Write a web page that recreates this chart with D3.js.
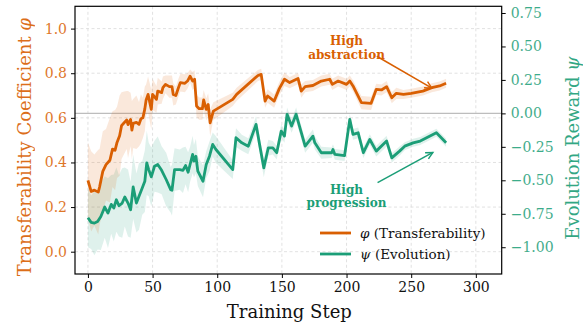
<!DOCTYPE html>
<html>
<head>
<meta charset="utf-8">
<script src="https://cdn.jsdelivr.net/npm/d3@7"></script>
<style>
  body { margin: 0; background: #fff; }
  text { font-family: "DejaVu Serif", serif; }
</style>
</head>
<body>
<svg id="chart" width="587" height="325"></svg>
<script>
// φ (transferability) series, left axis
const phiSteps = [0, 2.5, 5, 8, 9, 11.5, 14, 17, 19, 21,
  22.5, 24.5, 26, 28, 30, 31, 33, 34, 35, 37.5,
  39.5, 41, 42.5, 44, 45, 46.5, 49, 50, 53, 54,
  57, 58, 60, 63, 65, 66, 68, 70, 71.5, 75,
  77, 79, 81, 82.5, 84, 86, 88.5, 89.5, 91.5, 93,
  94.5, 97, 112, 115, 131.5, 134, 137, 139, 144, 148,
  152, 156, 162.5, 165, 168, 174, 180.5, 187, 189, 193.5,
  200, 202.5, 205, 211.5, 219, 223, 227, 231, 235, 238.5,
  244, 250, 259, 266, 272, 277];
const phiValues = [0.32, 0.27, 0.276, 0.267, 0.29, 0.36, 0.39, 0.41, 0.46, 0.455,
  0.49, 0.52, 0.565, 0.578, 0.59, 0.57, 0.593, 0.545, 0.575, 0.58,
  0.571, 0.596, 0.60, 0.64, 0.68, 0.705, 0.638, 0.705, 0.683, 0.72,
  0.713, 0.735, 0.75, 0.74, 0.74, 0.705, 0.70, 0.735, 0.758, 0.755,
  0.765, 0.787, 0.765, 0.773, 0.653, 0.641, 0.641, 0.68, 0.638, 0.66,
  0.578, 0.63, 0.683, 0.705, 0.79, 0.795, 0.675, 0.698, 0.675, 0.731,
  0.773, 0.758, 0.776, 0.72, 0.74, 0.745, 0.765, 0.773, 0.75, 0.765,
  0.75, 0.765, 0.743, 0.668, 0.665, 0.728, 0.725, 0.74, 0.69, 0.71,
  0.705, 0.71, 0.72, 0.735, 0.743, 0.755];
const phiSpread = [0.17, 0.18, 0.16, 0.19, 0.17, 0.18, 0.16, 0.19, 0.17, 0.18,
  0.16, 0.18, 0.15, 0.14, 0.13, 0.15, 0.12, 0.13, 0.11, 0.12,
  0.1, 0.11, 0.09, 0.1, 0.07, 0.08, 0.09, 0.07, 0.06, 0.06,
  0.05, 0.05, 0.04, 0.05, 0.05, 0.05, 0.04, 0.04, 0.04, 0.04,
  0.035, 0.03, 0.04, 0.04, 0.05, 0.05, 0.05, 0.045, 0.05, 0.05,
  0.06, 0.04, 0.03, 0.03, 0.025, 0.025, 0.03, 0.03, 0.03, 0.03,
  0.03, 0.025, 0.025, 0.03, 0.025, 0.025, 0.025, 0.025, 0.025, 0.025,
  0.025, 0.025, 0.025, 0.03, 0.03, 0.025, 0.025, 0.025, 0.025, 0.025,
  0.02, 0.02, 0.02, 0.02, 0.02, 0.02];

// ψ (evolution reward) series, right axis
const psiSteps = [0, 2.5, 5, 7.5, 10, 13, 15.5, 18, 20, 22,
  24, 26.5, 28.5, 31, 33, 35, 37.5, 39.5, 42, 44,
  45.5, 47, 49, 51.5, 54, 57, 60.5, 64, 65, 67,
  71, 73.5, 75.5, 77.5, 79, 81, 82, 83.5, 85, 89,
  91.5, 94, 96.5, 99, 112, 114.5, 119, 124, 130, 133,
  136, 139.5, 143, 146, 149.5, 152, 154, 157.5, 161, 168,
  174, 175.5, 180.5, 188.5, 189.5, 191, 198.5, 202.5, 205, 209,
  213, 218, 223, 231, 235, 241, 245, 251.5, 257, 269.5,
  277];
const psiValues = [-0.78, -0.814, -0.82, -0.807, -0.77, -0.70, -0.745, -0.68, -0.707, -0.645,
  -0.69, -0.67, -0.625, -0.67, -0.72, -0.55, -0.67, -0.62, -0.557, -0.507,
  -0.37, -0.42, -0.474, -0.395, -0.382, -0.425, -0.494, -0.57, -0.574, -0.42,
  -0.42, -0.425, -0.39, -0.44, -0.382, -0.307, -0.357, -0.32, -0.432, -0.507,
  -0.382, -0.32, -0.232, -0.27, -0.42, -0.182, -0.22, -0.245, -0.082, -0.245,
  -0.407, -0.257, -0.257, -0.294, -0.132, -0.17, -0.007, -0.095, -0.007, -0.245,
  -0.17, -0.22, -0.294, -0.294, -0.27, -0.307, -0.315, -0.045, -0.157, -0.145,
  -0.294, -0.195, -0.282, -0.207, -0.332, -0.282, -0.245, -0.22, -0.207, -0.145,
  -0.22];
const psiSpread = [0.22, 0.2, 0.24, 0.21, 0.25, 0.23, 0.26, 0.22, 0.25, 0.24,
  0.23, 0.26, 0.22, 0.25, 0.21, 0.24, 0.22, 0.25, 0.2, 0.23,
  0.24, 0.2, 0.22, 0.19, 0.21, 0.18, 0.2, 0.17, 0.19, 0.16,
  0.15, 0.17, 0.14, 0.15, 0.13, 0.14, 0.12, 0.13, 0.11, 0.12,
  0.1, 0.11, 0.09, 0.1, 0.07, 0.07, 0.06, 0.06, 0.06, 0.06,
  0.07, 0.06, 0.05, 0.05, 0.05, 0.05, 0.05, 0.05, 0.05, 0.05,
  0.05, 0.05, 0.045, 0.04, 0.04, 0.04, 0.04, 0.04, 0.04, 0.04,
  0.04, 0.04, 0.04, 0.04, 0.035, 0.035, 0.03, 0.03, 0.03, 0.03,
  0.03];

const xTicks = [0, 50, 100, 150, 200, 250, 300];
const phiTicks = [0, 0.2, 0.4, 0.6, 0.8, 1.0];
const psiTicks = [-1, -0.75, -0.5, -0.25, 0, 0.25, 0.5, 0.75];

const orange = '#d95f02';
const green = '#1b9e77';

const margin = { left: 75, right: 85.3, top: 6.3, bottom: 51 };
const W = 587, H = 325;
const iw = W - margin.left - margin.right;
const ih = H - margin.top - margin.bottom;

const svg = d3.select('#chart');
const g = svg.append('g').attr('transform', `translate(${margin.left},${margin.top})`);

const x = d3.scaleLinear().domain([-10, 320]).range([0, iw]);
const yPhi = d3.scaleLinear().domain([-0.1, 1.1]).range([ih, 0]);
const yPsi = d3.scaleLinear().domain([-1.2, 0.8]).range([ih, 0]);

// grid
g.selectAll('.vgrid').data(xTicks).enter().append('line')
  .attr('x1', d => x(d)).attr('x2', d => x(d))
  .attr('y1', 0).attr('y2', ih)
  .attr('stroke', '#d9d9d9').attr('stroke-width', 0.8)
  .attr('stroke-dasharray', '3,2.5');
g.selectAll('.hgrid').data(phiTicks).enter().append('line')
  .attr('x1', 0).attr('x2', iw)
  .attr('y1', d => yPhi(d)).attr('y2', d => yPhi(d))
  .attr('stroke', '#d9d9d9').attr('stroke-width', 0.8)
  .attr('stroke-dasharray', '3,2.5');

// zero line of psi
g.append('line')
  .attr('x1', 0).attr('x2', iw)
  .attr('y1', yPsi(0)).attr('y2', yPsi(0))
  .attr('stroke', '#bdbdbd').attr('stroke-width', 1.3);

const phiData = phiSteps.map((s, i) => ({ s, v: phiValues[i], e: phiSpread[i] }));
const psiData = psiSteps.map((s, i) => ({ s, v: psiValues[i], e: psiSpread[i] }));

const psiArea = d3.area().x(d => x(d.s)).y0(d => yPsi(d.v - d.e)).y1(d => yPsi(d.v + d.e));
const phiArea = d3.area().x(d => x(d.s)).y0(d => yPhi(d.v - d.e)).y1(d => yPhi(d.v + d.e));

g.append('path').attr('d', psiArea(psiData)).attr('fill', green).attr('opacity', 0.14);
g.append('path').attr('d', phiArea(phiData)).attr('fill', orange).attr('opacity', 0.14);

const phiLine = d3.line().x(d => x(d.s)).y(d => yPhi(d.v));
const psiLine = d3.line().x(d => x(d.s)).y(d => yPsi(d.v));

g.append('path').attr('d', phiLine(phiData)).attr('fill', 'none')
  .attr('stroke', orange).attr('stroke-width', 2.8).attr('stroke-linejoin', 'round');
g.append('path').attr('d', psiLine(psiData)).attr('fill', 'none')
  .attr('stroke', green).attr('stroke-width', 2.8).attr('stroke-linejoin', 'round');

// frame
g.append('rect').attr('width', iw).attr('height', ih)
  .attr('fill', 'none').attr('stroke', '#000').attr('stroke-width', 1.2);

// axes
const xAxis = g.append('g').attr('transform', `translate(0,${ih})`)
  .call(d3.axisBottom(x).tickValues(xTicks).tickSize(4).tickPadding(4));
const yAxisL = g.append('g')
  .call(d3.axisLeft(yPhi).tickValues(phiTicks).tickFormat(d3.format('.1f')).tickSize(4).tickPadding(4));
const yAxisR = g.append('g').attr('transform', `translate(${iw},0)`)
  .call(d3.axisRight(yPsi).tickValues(psiTicks).tickFormat(d3.format('.2f')).tickSize(4).tickPadding(5));

[xAxis, yAxisL, yAxisR].forEach(a => {
  a.select('.domain').remove();
  a.selectAll('.tick line').attr('stroke', '#000').attr('stroke-width', 1);
  a.selectAll('.tick text').attr('font-family', '"DejaVu Serif", serif').attr('font-size', 14);
});
xAxis.selectAll('.tick text').attr('fill', '#111');
yAxisL.selectAll('.tick text').attr('fill', orange).attr('opacity', 0.85);
yAxisR.selectAll('.tick text').attr('fill', green).attr('opacity', 0.85);

// axis labels
svg.append('text')
  .attr('x', margin.left + iw / 2 + 1).attr('y', 318)
  .attr('text-anchor', 'middle').attr('font-size', 18).attr('fill', '#111')
  .text('Training Step');

const leftLabel = svg.append('text')
  .attr('transform', `translate(31,${margin.top + ih / 2 + 7}) rotate(-90)`)
  .attr('text-anchor', 'middle').attr('font-size', 18).attr('fill', orange).attr('opacity', 0.9);
leftLabel.append('tspan').text('Transferability Coefficient ');
leftLabel.append('tspan').attr('font-style', 'italic').text('φ');

const rightLabel = svg.append('text')
  .attr('transform', `translate(579,${margin.top + ih / 2 + 8}) rotate(-90)`)
  .attr('text-anchor', 'middle').attr('font-size', 18).attr('fill', green).attr('opacity', 0.9);
rightLabel.append('tspan').text('Evolution Reward ');
rightLabel.append('tspan').attr('font-style', 'italic').text('ψ');

// annotations
const defs = svg.append('defs');
[['arrO', orange], ['arrG', green]].forEach(([id, c]) => {
  defs.append('marker').attr('id', id)
    .attr('viewBox', '-8 -5 10 10').attr('refX', 0).attr('refY', 0)
    .attr('markerWidth', 10).attr('markerHeight', 10)
    .attr('markerUnits', 'userSpaceOnUse').attr('orient', 'auto')
    .append('path').attr('d', 'M-7,-3.5 L0,0 L-7,3.5')
    .attr('fill', 'none').attr('stroke', c).attr('stroke-width', 1.4);
});

g.append('line')
  .attr('x1', x(223.4)).attr('y1', yPhi(0.876))
  .attr('x2', x(266)).attr('y2', yPhi(0.733))
  .attr('stroke', orange).attr('stroke-width', 1.5).attr('marker-end', 'url(#arrO)');
g.append('line')
  .attr('x1', x(224)).attr('y1', yPsi(-0.517))
  .attr('x2', x(266.8)).attr('y2', yPsi(-0.292))
  .attr('stroke', green).attr('stroke-width', 1.5).attr('marker-end', 'url(#arrG)');

const annO = g.append('text').attr('text-anchor', 'middle').attr('font-size', 12)
  .attr('font-weight', 'bold').attr('fill', orange);
annO.append('tspan').attr('x', x(200)).attr('y', yPhi(0.925)).text('High');
annO.append('tspan').attr('x', x(200)).attr('y', yPhi(0.865)).text('abstraction');

const annG = g.append('text').attr('text-anchor', 'middle').attr('font-size', 12)
  .attr('font-weight', 'bold').attr('fill', green);
annG.append('tspan').attr('x', x(200)).attr('y', yPsi(-0.6)).text('High');
annG.append('tspan').attr('x', x(200)).attr('y', yPsi(-0.703)).text('progression');

// legend
const legend = svg.append('g');
const legendItems = [
  { sym: 'φ', label: ' (Transferability)', color: orange },
  { sym: 'ψ', label: ' (Evolution)', color: green }
];
legendItems.forEach((it, i) => {
  const yy = 233 + i * 21;
  legend.append('line').attr('x1', 320).attr('x2', 351).attr('y1', yy).attr('y2', yy)
    .attr('stroke', it.color).attr('stroke-width', 2.8);
  const t = legend.append('text').attr('x', 360).attr('y', yy + 5)
    .attr('font-size', 13.5).attr('fill', '#111');
  t.append('tspan').attr('font-style', 'italic').text(it.sym);
  t.append('tspan').text(it.label);
});
</script>
</body>
</html>
